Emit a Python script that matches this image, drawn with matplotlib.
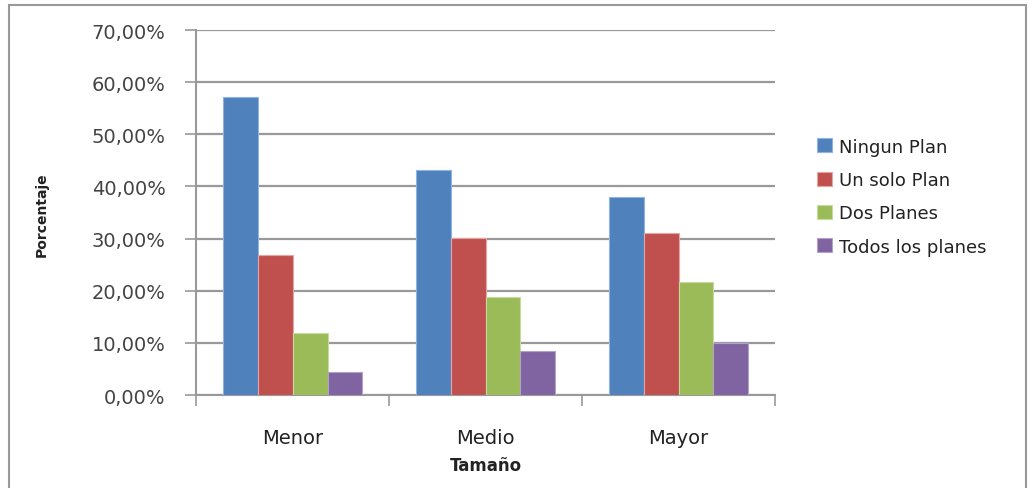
import matplotlib
matplotlib.use("Agg")
import matplotlib.pyplot as plt
import numpy as np
from matplotlib.patches import Rectangle

categories = ["Menor", "Medio", "Mayor"]
series_names = ["Ningun Plan", "Un solo Plan", "Dos Planes", "Todos los planes"]
ningun = [57.1, 43.1, 37.9]
un_solo = [26.8, 30.1, 31.1]
dos = [12.0, 18.8, 21.6]
todos = [4.5, 8.5, 10.0]
yticks = [0, 10, 20, 30, 40, 50, 60, 70]
ytick_labels = ["0,00%", "10,00%", "20,00%", "30,00%", "40,00%", "50,00%", "60,00%", "70,00%"]

colors = ["#4F81BD", "#C0504D", "#9BBB59", "#8064A2"]
edges = ["#8EB4E3", "#E6A5A3", "#C5DC9E", "#B3A2C7"]

fig = plt.figure(figsize=(10.32, 4.89), dpi=100)
fig.patches.append(Rectangle((0.009, -0.01), 0.985, 0.997, transform=fig.transFigure,
                             fill=False, edgecolor="#999999", linewidth=1.5))
ax = fig.add_axes([0.19, 0.19, 0.561, 0.7466])

x = np.arange(len(categories))
w = 0.181
data = [ningun, un_solo, dos, todos]
for i, (vals, name) in enumerate(zip(data, series_names)):
    ax.bar(x + (i - 1.5) * w, vals, width=w, color=colors[i], edgecolor=edges[i],
           linewidth=0.8, label=name, zorder=3)

ax.set_xlim(-0.5, 2.5)
ax.set_ylim(0, 70)
ax.set_yticks(yticks)
ax.set_yticklabels(ytick_labels, fontsize=14, color="#444444")
ax.yaxis.grid(True, color="#999999", linewidth=1.6, zorder=0)
ax.set_axisbelow(True)
ax.set_xticks(x)
ax.set_xticklabels(categories, fontsize=14, color="#222222")
ax.set_xticks([-0.5, 0.5, 1.5, 2.5], minor=True)
ax.tick_params(axis="x", which="major", length=0, pad=24)
ax.tick_params(axis="x", which="minor", length=8, width=1.2, color="#999999", direction="out")
ax.tick_params(axis="y", length=8, width=1.2, color="#999999", pad=14)
for s in ["top", "right"]:
    ax.spines[s].set_visible(False)
for s in ["left", "bottom"]:
    ax.spines[s].set_color("#999999")
    ax.spines[s].set_linewidth(1.5)

ax.set_xlabel("Tamaño", fontsize=12, fontweight="bold", color="#222222", labelpad=6)
ax.set_ylabel("Porcentaje", fontsize=10, fontweight="bold", color="#222222")
ax.yaxis.set_label_coords(-0.255, 0.496)

leg = ax.legend(loc="upper left", bbox_to_anchor=(1.045, 0.75), frameon=False,
                fontsize=13, handlelength=0.8, handleheight=0.8, handletextpad=0.4,
                labelspacing=0.85)
for t in leg.get_texts():
    t.set_color("#222222")

fig.savefig("out.png", dpi=100)
